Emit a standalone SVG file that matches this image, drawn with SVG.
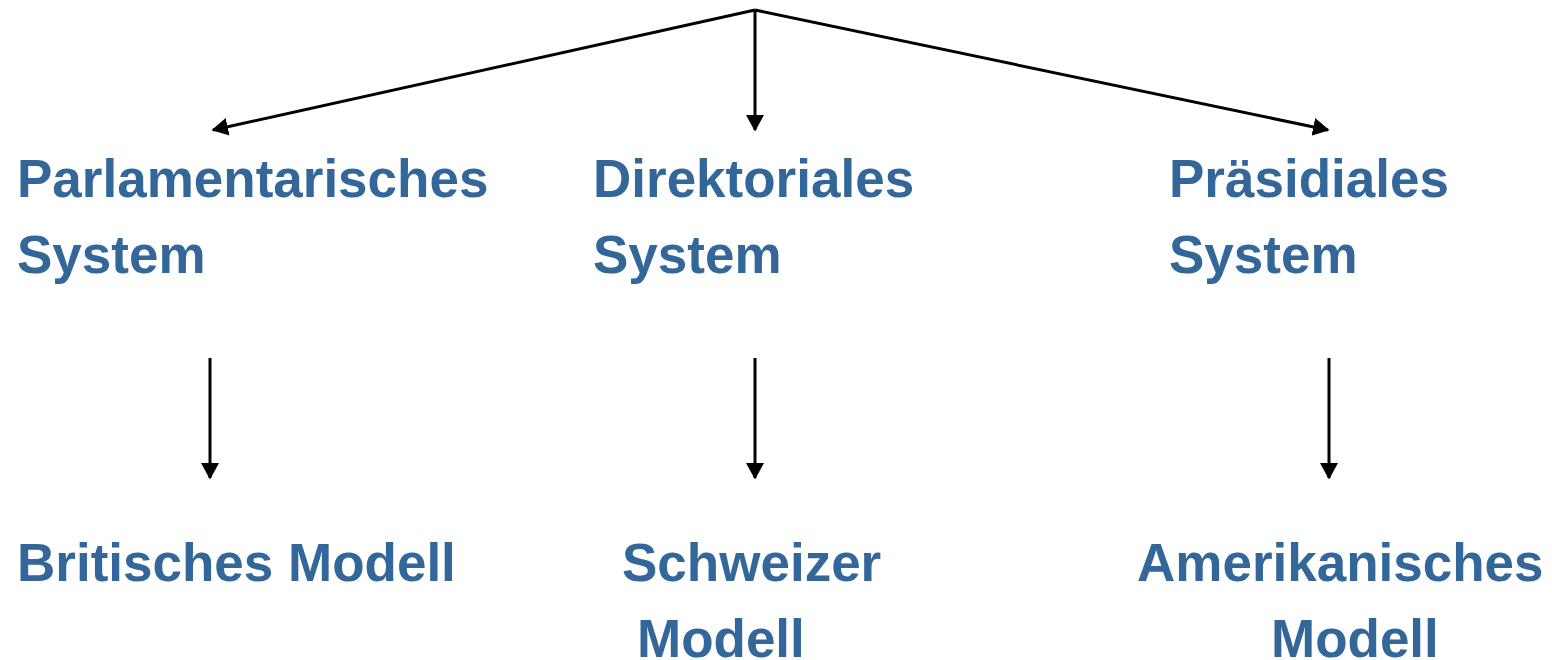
<svg xmlns="http://www.w3.org/2000/svg" width="1552" height="660" viewBox="0 0 1552 660">
<style>
.t{font-family:"Liberation Sans",Arial,sans-serif;font-weight:bold;font-size:53px;fill:#336699}
.c{stroke:#000;stroke-width:3;fill:none;marker-end:url(#ah)}
</style>
<defs>
<marker id="ah" markerWidth="6" markerHeight="6" refX="5" refY="3" orient="auto" markerUnits="strokeWidth">
<path d="M0,0 L5.5,3 L0,6 Z" fill="#000"/>
</marker>
</defs>
<rect width="1552" height="660" fill="#fff"/>
<g id="connectors">
<path class="c" d="M755,10 L213,130"/>
<path class="c" d="M755,10 L755,130"/>
<path class="c" d="M755,10 L1328,130"/>
<path class="c" d="M210,358 L210,478"/>
<path class="c" d="M755,358 L755,478"/>
<path class="c" d="M1329,358 L1329,478"/>
</g>
<g id="parlamentarisch"><text class="t" x="17" y="197">Parlamentarisches</text><text class="t" x="17" y="273">System</text></g>
<g id="direktorial"><text class="t" x="593" y="197">Direktoriales</text><text class="t" x="593" y="273">System</text></g>
<g id="praesidial"><text class="t" x="1169" y="197">Präsidiales</text><text class="t" x="1169" y="273">System</text></g>
<g id="britisch"><text class="t" x="17" y="581">Britisches Modell</text></g>
<g id="schweizer"><text class="t" x="622" y="581">Schweizer</text><text class="t" x="637" y="657">Modell</text></g>
<g id="amerikanisch"><text class="t" x="1137" y="581">Amerikanisches</text><text class="t" x="1271" y="657">Modell</text></g>
</svg>
